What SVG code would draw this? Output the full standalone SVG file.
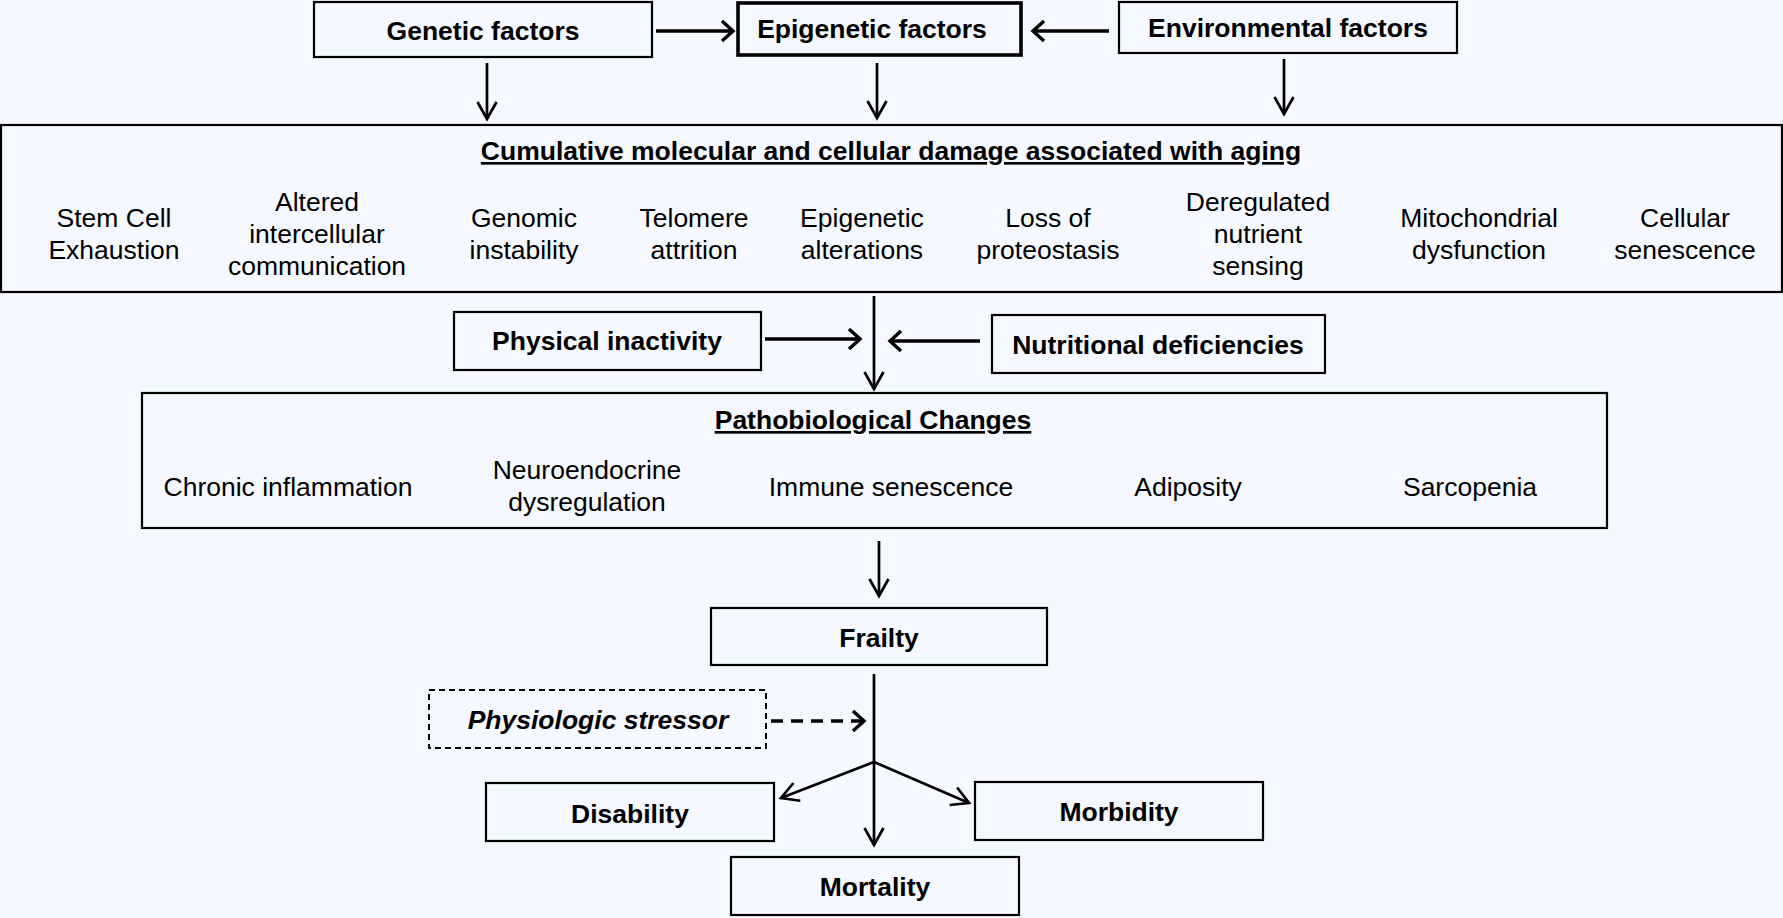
<svg xmlns="http://www.w3.org/2000/svg" width="1783" height="918" viewBox="0 0 1783 918">
  <style>
    .box { fill: none; stroke: #000; stroke-width: 2.2; }
    .thick { stroke-width: 3.6; }
    .dash { stroke-dasharray: 6 4; stroke-width: 2; }
    .lbl { font-family: "Liberation Sans", Arial, sans-serif; font-size: 26.5px; fill: #000; text-anchor: middle; }
    .b { font-weight: bold; }
    .it { font-style: italic; }
    .u { text-decoration: underline; }
    .ln { fill: none; stroke: #000; stroke-width: 2.7; }
    .ln-h { fill: none; stroke: #000; stroke-width: 3.4; }
    .ln-d { fill: none; stroke: #000; stroke-width: 3.4; stroke-dasharray: 12 8; }
  </style>
  <defs>
    <marker id="head" markerUnits="userSpaceOnUse" markerWidth="30" markerHeight="30" refX="0" refY="0" viewBox="-20 -15 30 30" orient="auto">
      <path d="M-17,-9.5 L0,0 L-17,9.5" fill="none" stroke="#000" stroke-width="2.7"/>
    </marker>
    <marker id="headBold" markerUnits="userSpaceOnUse" markerWidth="30" markerHeight="30" refX="0" refY="0" viewBox="-20 -15 30 30" orient="auto">
      <path d="M-11,-10 L0,0 L-11,10" fill="none" stroke="#000" stroke-width="3.4"/>
    </marker>
  </defs>
  <rect width="1783" height="918" fill="#f5f8fe"/>

  <g id="connectors">
    <line class="ln-h" x1="656" y1="31" x2="733" y2="31" marker-end="url(#headBold)"/>
    <line class="ln-h" x1="1109" y1="31" x2="1033" y2="31" marker-end="url(#headBold)"/>
    <line class="ln" x1="487" y1="63" x2="487" y2="119" marker-end="url(#head)"/>
    <line class="ln" x1="877" y1="63" x2="877" y2="118" marker-end="url(#head)"/>
    <line class="ln" x1="1284" y1="59" x2="1284" y2="114" marker-end="url(#head)"/>
    <line class="ln-h" x1="765" y1="339" x2="860" y2="339" marker-end="url(#headBold)"/>
    <line class="ln-h" x1="980" y1="341" x2="890" y2="341" marker-end="url(#headBold)"/>
    <line class="ln" x1="874" y1="296" x2="874" y2="389" marker-end="url(#head)"/>
    <line class="ln" x1="879" y1="541" x2="879" y2="596" marker-end="url(#head)"/>
    <line class="ln" x1="874" y1="674" x2="874" y2="762"/>
    <line class="ln-d" x1="771" y1="721" x2="864" y2="721" marker-end="url(#headBold)"/>
    <line class="ln" x1="874" y1="762" x2="781" y2="798" marker-end="url(#head)"/>
    <line class="ln" x1="874" y1="762" x2="969" y2="803" marker-end="url(#head)"/>
    <line class="ln" x1="874" y1="762" x2="874" y2="845" marker-end="url(#head)"/>
  </g>

  <g id="genetic">
    <rect class="box" x="314" y="2" width="338" height="55"/>
    <text class="lbl b" x="483" y="40">Genetic factors</text>
  </g>
  <g id="epigenetic">
    <rect class="box thick" x="738" y="3" width="283" height="52"/>
    <text class="lbl b" x="872" y="38">Epigenetic factors</text>
  </g>
  <g id="environmental">
    <rect class="box" x="1119" y="2" width="338" height="51"/>
    <text class="lbl b" x="1288" y="37">Environmental factors</text>
  </g>

  <g id="damage">
    <rect class="box" x="1" y="125" width="1781" height="167"/>
    <text class="lbl b u" x="891" y="160">Cumulative molecular and cellular damage associated with aging</text>
    <text class="lbl" x="114" y="227">Stem Cell</text>
    <text class="lbl" x="114" y="259">Exhaustion</text>
    <text class="lbl" x="317" y="211">Altered</text>
    <text class="lbl" x="317" y="243">intercellular</text>
    <text class="lbl" x="317" y="275">communication</text>
    <text class="lbl" x="524" y="227">Genomic</text>
    <text class="lbl" x="524" y="259">instability</text>
    <text class="lbl" x="694" y="227">Telomere</text>
    <text class="lbl" x="694" y="259">attrition</text>
    <text class="lbl" x="862" y="227">Epigenetic</text>
    <text class="lbl" x="862" y="259">alterations</text>
    <text class="lbl" x="1048" y="227">Loss of</text>
    <text class="lbl" x="1048" y="259">proteostasis</text>
    <text class="lbl" x="1258" y="211">Deregulated</text>
    <text class="lbl" x="1258" y="243">nutrient</text>
    <text class="lbl" x="1258" y="275">sensing</text>
    <text class="lbl" x="1479" y="227">Mitochondrial</text>
    <text class="lbl" x="1479" y="259">dysfunction</text>
    <text class="lbl" x="1685" y="227">Cellular</text>
    <text class="lbl" x="1685" y="259">senescence</text>
  </g>

  <g id="inactivity">
    <rect class="box" x="454" y="312" width="307" height="58"/>
    <text class="lbl b" x="607" y="350">Physical inactivity</text>
  </g>
  <g id="nutrition">
    <rect class="box" x="992" y="315" width="333" height="58"/>
    <text class="lbl b" x="1158" y="354">Nutritional deficiencies</text>
  </g>

  <g id="pathobiological">
    <rect class="box" x="142" y="393" width="1465" height="135"/>
    <text class="lbl b u" x="873" y="429">Pathobiological Changes</text>
    <text class="lbl" x="288" y="496">Chronic inflammation</text>
    <text class="lbl" x="587" y="479">Neuroendocrine</text>
    <text class="lbl" x="587" y="511">dysregulation</text>
    <text class="lbl" x="891" y="496">Immune senescence</text>
    <text class="lbl" x="1188" y="496">Adiposity</text>
    <text class="lbl" x="1470" y="496">Sarcopenia</text>
  </g>

  <g id="frailty">
    <rect class="box" x="711" y="608" width="336" height="57"/>
    <text class="lbl b" x="879" y="647">Frailty</text>
  </g>
  <g id="stressor">
    <rect class="box dash" x="429" y="690" width="337" height="58"/>
    <text class="lbl b it" x="598" y="729">Physiologic stressor</text>
  </g>
  <g id="disability">
    <rect class="box" x="486" y="783" width="288" height="58"/>
    <text class="lbl b" x="630" y="823">Disability</text>
  </g>
  <g id="morbidity">
    <rect class="box" x="975" y="782" width="288" height="58"/>
    <text class="lbl b" x="1119" y="821">Morbidity</text>
  </g>
  <g id="mortality">
    <rect class="box" x="731" y="857" width="288" height="58"/>
    <text class="lbl b" x="875" y="896">Mortality</text>
  </g>
</svg>
